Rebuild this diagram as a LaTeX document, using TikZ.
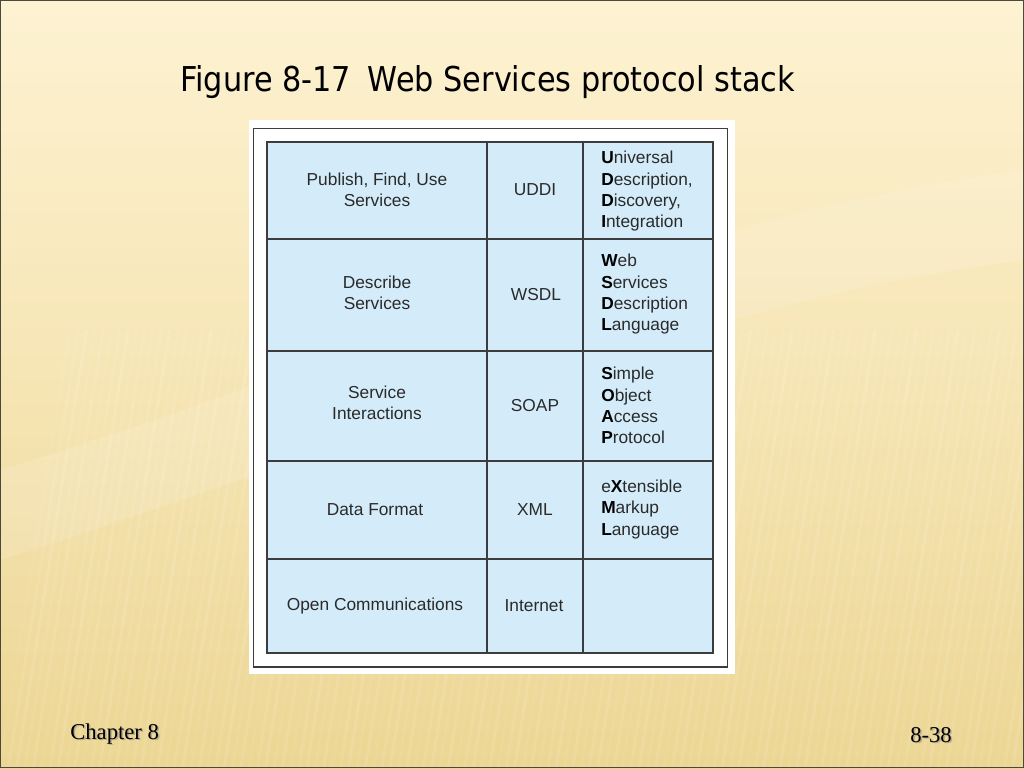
\documentclass[tikz,border=0pt]{standalone}
\usepackage{fontspec}
\setmainfont{Liberation Serif}
\newfontfamily\tabfont{Liberation Sans}
\newfontfamily\titfont{DejaVu Sans}
\usepackage{graphicx}
\definecolor{bgtop}{HTML}{FDF2D2}
\definecolor{bgmid}{HTML}{F6E5B4}
\definecolor{bgbot}{HTML}{ECD693}
\definecolor{cellblue}{HTML}{D4ECFA}
\definecolor{gridline}{HTML}{3C3C3C}
\definecolor{txtgray}{HTML}{2A2A2A}
\definecolor{frame}{HTML}{4A4A3A}
\newcommand{\BL}[1]{\textbf{\color{black}#1}}
\tikzset{
  celltext/.style={inner sep=0pt, font=\tabfont\fontsize{13}{16}\selectfont, text=txtgray},
  leftcell/.style={celltext, align=center},
  midcell/.style={celltext, align=center},
  rightcell/.style={celltext, align=left, anchor=west},
  footer/.style={inner sep=0pt, anchor=base west, font=\fontsize{17}{20}\selectfont},
}
\begin{document}
\begin{tikzpicture}[x=0.75pt,y=-0.75pt]
\useasboundingbox (0,0) rectangle (1024,768);
% background
\shade[top color=bgtop, bottom color=bgbot, middle color=bgmid] (0,0) rectangle (1024,768);
\foreach \i in {0,...,130} {
  \pgfmathsetmacro{\xo}{\i*8.3}
  \pgfmathsetmacro{\op}{0.05+0.07*mod(\i*7,5)/4}
  \draw[white, opacity=\op, line width=2.2] (\xo,768) -- (\xo+70,330);
}
\fill[white, opacity=0.12] (0,470) .. controls (300,380) and (650,220) .. (1024,170) -- (1024,260) .. controls (700,300) and (350,450) .. (0,560) -- cycle;
\draw[frame, line width=1.2] (0.6,0.6) rectangle (1023.4,767.4);
% title
\node[anchor=base west, inner sep=0pt] (title) at (180,91)
  {\resizebox{461pt}{19.5pt}{\titfont Figure 8-17\hspace{0.55em}Web Services protocol stack}};
% white panel
\fill[white] (248.5,119.5) rectangle (734.5,673.5);
\draw[gridline, line width=0.9] (253.3,128.3) rectangle (727.5,667);
% table
\fill[cellblue] (267,142) rectangle (713,653);
\draw[gridline, line width=1.2] (267,142) rectangle (713,653);
\foreach \yy in {239,351,461,559} \draw[gridline, line width=1.2] (267,\yy) -- (713,\yy);
\foreach \xx in {487,583} \draw[gridline, line width=1.2] (\xx,142) -- (\xx,653);
% left column
\node[leftcell] (l1) at (377,190) {Publish, Find, Use\\Services};
\node[leftcell] (l2) at (377,293) {Describe\\Services};
\node[leftcell] (l3) at (377,403) {Service\\Interactions};
\node[leftcell] (l4) at (375,510) {Data Format};
\node[leftcell] (l5) at (375,606) {Open Communications};
% middle column
\node[midcell] (m1) at (535,190) {UDDI};
\node[midcell] (m2) at (536,295) {WSDL};
\node[midcell] (m3) at (535,406) {SOAP};
\node[midcell] (m4) at (535,510) {XML};
\node[midcell] (m5) at (534,606) {Internet};
% right column
\node[rightcell] (r1) at (601,191.5) {\BL{U}niversal\\\BL{D}escription,\\\BL{D}iscovery,\\\BL{I}ntegration};
\node[rightcell] (r2) at (601,294.5) {\BL{W}eb\\\BL{S}ervices\\\BL{D}escription\\\BL{L}anguage};
\node[rightcell] (r3) at (601,405.5) {\BL{S}imple\\\BL{O}bject\\\BL{A}ccess\\\BL{P}rotocol};
\node[rightcell] (r4) at (601,509.5) {e\BL{X}tensible\\\BL{M}arkup\\\BL{L}anguage};
% footer
\node[footer, text=black!45, opacity=0.6] (c8s) at (71.5,740.5) {Chapter 8};
\node[footer] (c8) at (70,739) {Chapter 8};
\node[footer, text=black!45, opacity=0.6] (pgs) at (911.5,743.5) {8-38};
\node[footer] (pg) at (910,742) {8-38};
\end{tikzpicture}
\end{document}
